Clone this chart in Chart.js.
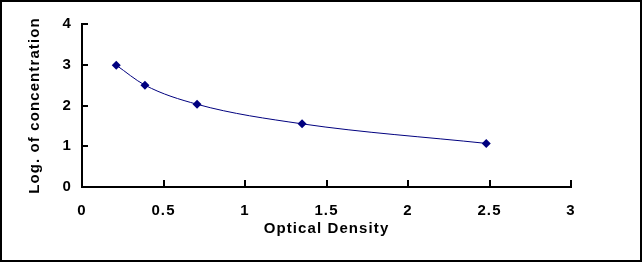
<!DOCTYPE html>
<html>
<head>
<meta charset="utf-8">
<script src="https://cdn.jsdelivr.net/npm/chart.js@4"></script>
<style>
  html, body { margin: 0; padding: 0; background: #fff; }
  #wrap { width: 642px; height: 262px; box-sizing: border-box; border: 2px solid #000; position: relative; }
  canvas { display: block; }
</style>
</head>
<body>
<div id="wrap"><canvas id="curve" width="638" height="258"></canvas></div>
<script>
// standard curve points
const opticalDensity = [0.21, 0.386, 0.706, 1.35, 2.48];
const logConcentration = [2.99, 2.5, 2.03, 1.55, 1.07];
const xTicks = [0, 0.5, 1, 1.5, 2, 2.5, 3];
const yTicks = [0, 1, 2, 3, 4];

const navy = '#00007f';
const labelFont = { family: 'Liberation Sans, Arial', size: 15, weight: 'bold' };

// excel style: tick marks point into the plot
const innerTicks = {
    id: 'innerTicks',
    beforeUpdate(chart) {
        chart.ctx.letterSpacing = '1.1px';
    },
    beforeDraw(chart) {
        chart.ctx.letterSpacing = '1.1px';
    },
    afterDraw(chart) {
        const ctx = chart.ctx;
        const x = chart.scales.x, y = chart.scales.y;
        ctx.save();
        ctx.strokeStyle = '#000';
        ctx.lineWidth = 2;
        ctx.beginPath();
        xTicks.slice(1).forEach(v => {
            const px = Math.round(x.getPixelForValue(v));
            ctx.moveTo(px, y.bottom);
            ctx.lineTo(px, y.bottom - 7);
        });
        yTicks.slice(1).forEach(v => {
            const py = Math.round(y.getPixelForValue(v));
            ctx.moveTo(x.left, py);
            ctx.lineTo(x.left + 6, py);
        });
        ctx.stroke();
        ctx.restore();
    }
};

new Chart(document.getElementById('curve'), {
    type: 'line',
    data: {
        datasets: [{
            data: opticalDensity.map((v, i) => ({ x: v, y: logConcentration[i] })),
            borderColor: navy,
            backgroundColor: navy,
            borderWidth: 1,
            pointStyle: 'rectRot',
            pointRadius: 4.5,
            pointBorderWidth: 0,
            cubicInterpolationMode: 'monotone'
        }]
    },
    options: {
        responsive: false,
        animation: false,
        layout: { padding: { left: 0, top: 22, right: 69, bottom: 0 } },
        plugins: { legend: { display: false }, tooltip: { enabled: false } },
        scales: {
            x: {
                type: 'linear',
                min: 0, max: 3,
                afterBuildTicks: s => { s.ticks = xTicks.map(v => ({ value: v })); },
                afterFit: s => { s.height = 73; },
                border: { color: '#000', width: 2 },
                grid: { drawOnChartArea: false, drawTicks: false },
                ticks: { color: '#000', font: labelFont, padding: 15, maxRotation: 0,
                    callback: v => String(v) },
                title: { display: true, text: 'Optical Density', color: '#000', font: labelFont,
                    padding: { top: 0, bottom: 22 } }
            },
            y: {
                min: 0, max: 4,
                afterBuildTicks: s => { s.ticks = yTicks.map(v => ({ value: v })); },
                afterFit: s => { s.width = 80; },
                border: { color: '#000', width: 2 },
                grid: { drawOnChartArea: false, drawTicks: false },
                ticks: { color: '#000', font: labelFont, padding: 10, callback: v => String(v) },
                title: { display: true, text: 'Log. of concentration', color: '#000', font: labelFont,
                    padding: { top: 24 } }
            }
        }
    },
    plugins: [innerTicks]
});
</script>
</body>
</html>
